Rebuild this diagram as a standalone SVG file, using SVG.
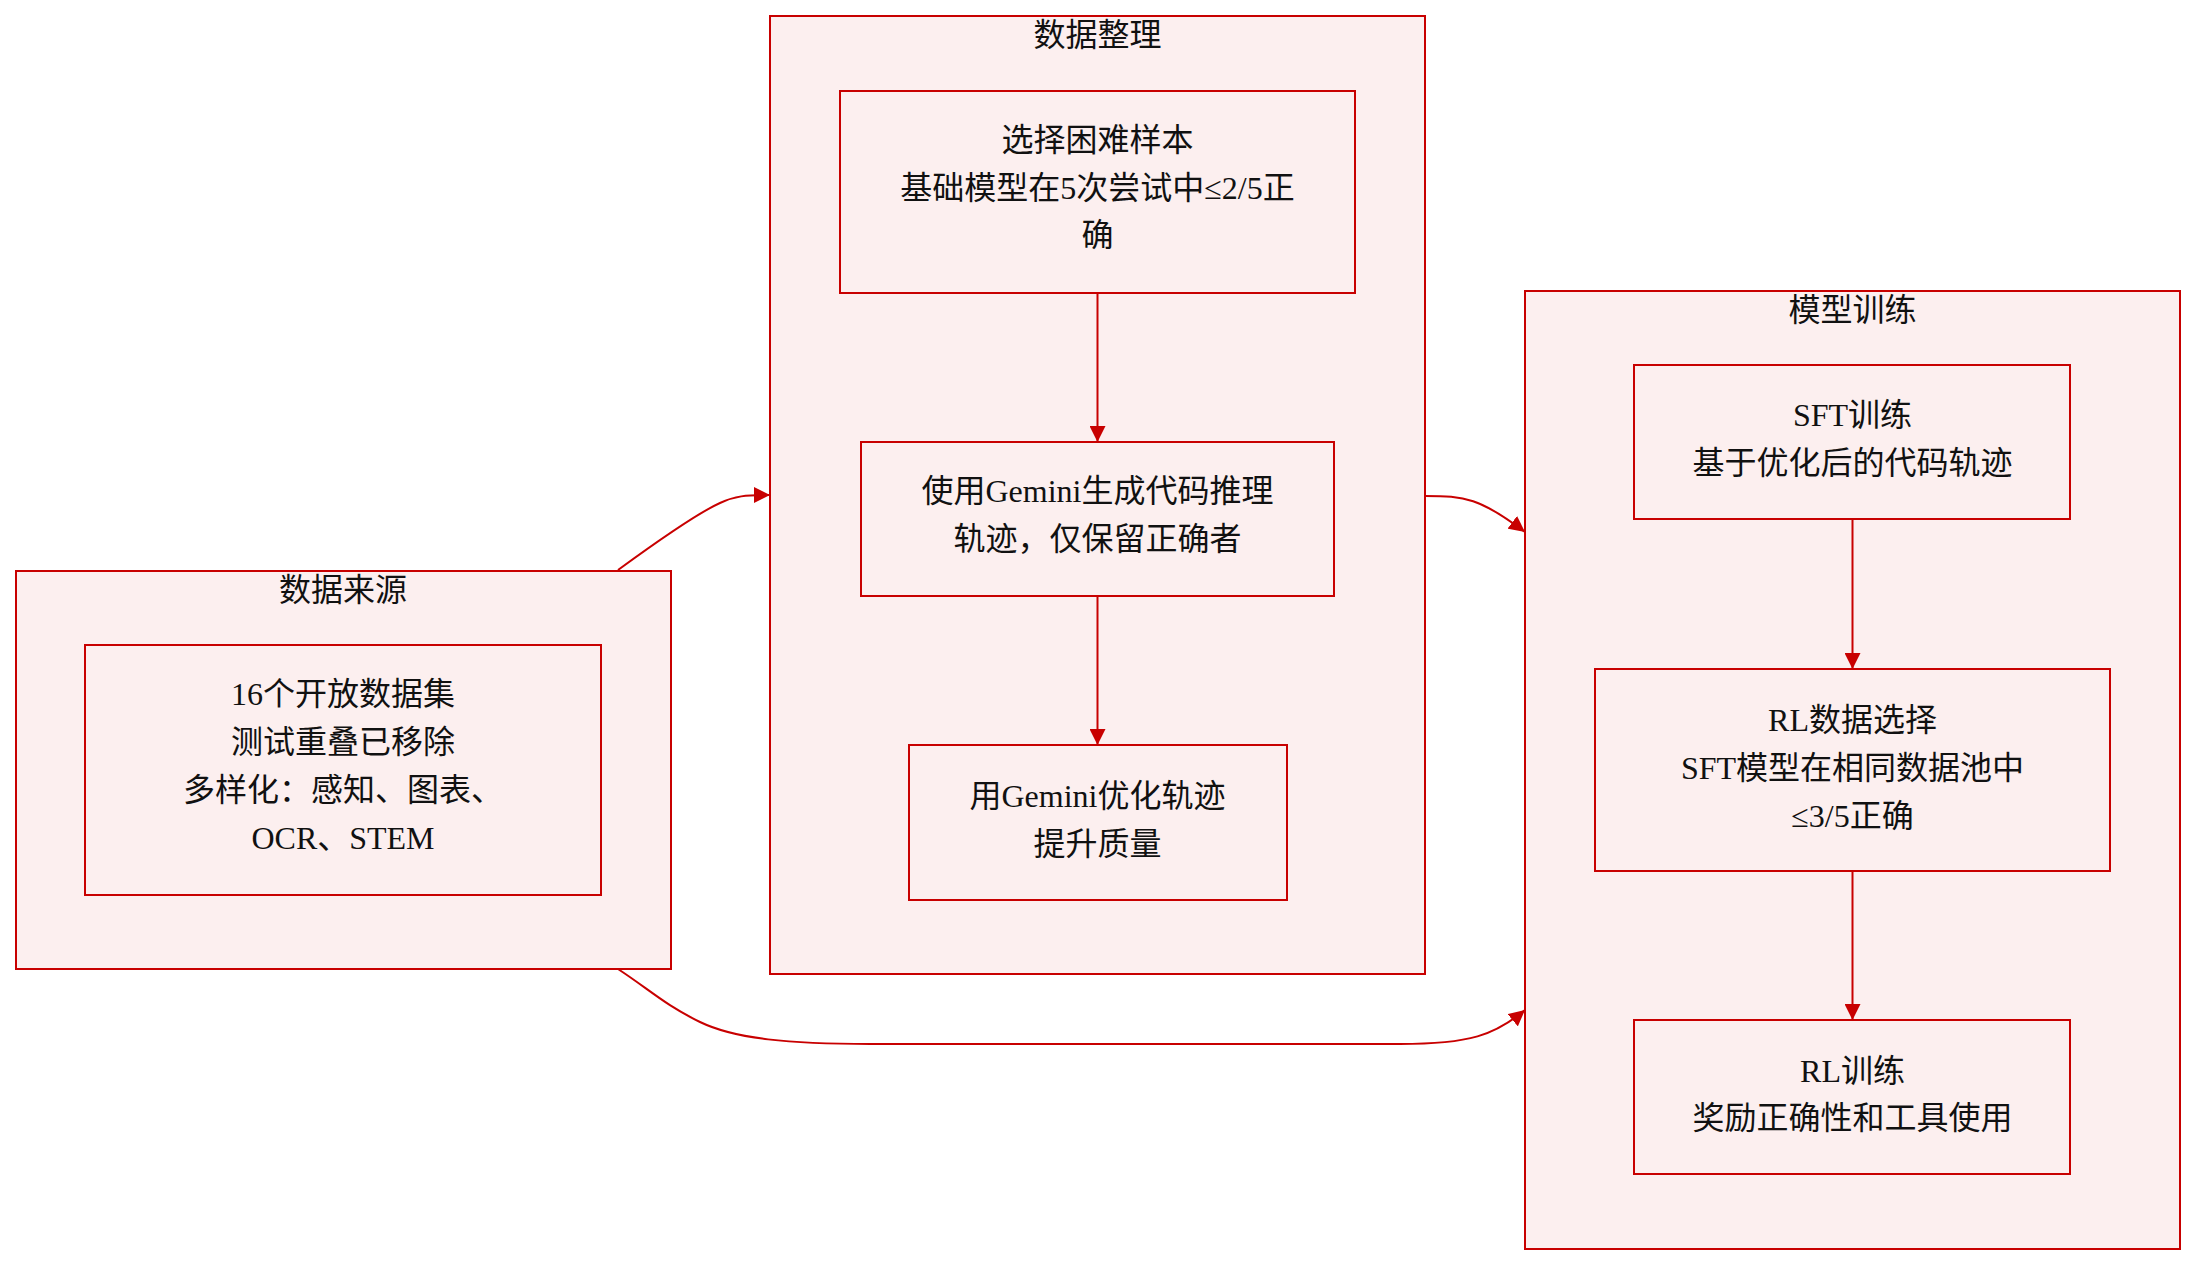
<svg xmlns="http://www.w3.org/2000/svg" width="2212" height="1276" viewBox="0 0 2212 1276">
<style>
.cl{fill:#fcefef;stroke:#c80000;stroke-width:2}
.nd{fill:#fcefef;stroke:#c80000;stroke-width:2}
.t{font-family:"Liberation Serif","Noto Sans CJK SC",serif;font-size:32px;fill:#111;text-anchor:middle}
.e{fill:none;stroke:#c80000;stroke-width:2}
</style>
<defs>
<marker id="ar" viewBox="0 0 10 10" refX="10" refY="5" markerUnits="userSpaceOnUse" markerWidth="16" markerHeight="16" orient="auto">
<path d="M0,0 L10,5 L0,10 z" fill="#c80000"/>
</marker>
</defs>
<rect width="2212" height="1276" fill="#fff"/>
<g id="cluster-source">
<rect class="cl" x="16" y="571" width="655" height="398"/>
<text class="t" x="343" y="601">数据来源</text>
</g>
<g id="cluster-curate">
<rect class="cl" x="770" y="16" width="655" height="958"/>
<text class="t" x="1097.5" y="46">数据整理</text>
</g>
<g id="cluster-train">
<rect class="cl" x="1525" y="291" width="655" height="958"/>
<text class="t" x="1852.5" y="321">模型训练</text>
</g>
<g id="node-datasets">
<rect class="nd" x="85" y="645" width="516" height="250"/>
<text class="t" x="343" y="705">16个开放数据集</text>
<text class="t" x="343" y="753">测试重叠已移除</text>
<text class="t" x="343" y="801">多样化：感知、图表、</text>
<text class="t" x="343" y="849">OCR、STEM</text>
</g>
<g id="node-hard">
<rect class="nd" x="840" y="91" width="515" height="202"/>
<text class="t" x="1097.5" y="151">选择困难样本</text>
<text class="t" x="1097.5" y="199">基础模型在5次尝试中≤2/5正</text>
<text class="t" x="1097.5" y="246">确</text>
</g>
<g id="node-gen">
<rect class="nd" x="861" y="442" width="473" height="154"/>
<text class="t" x="1097.5" y="502">使用Gemini生成代码推理</text>
<text class="t" x="1097.5" y="550">轨迹，仅保留正确者</text>
</g>
<g id="node-refine">
<rect class="nd" x="909" y="745" width="378" height="155"/>
<text class="t" x="1097.5" y="807">用Gemini优化轨迹</text>
<text class="t" x="1097.5" y="855">提升质量</text>
</g>
<g id="node-sft">
<rect class="nd" x="1634" y="365" width="436" height="154"/>
<text class="t" x="1852.5" y="426">SFT训练</text>
<text class="t" x="1852.5" y="474">基于优化后的代码轨迹</text>
</g>
<g id="node-rldata">
<rect class="nd" x="1595" y="669" width="515" height="202"/>
<text class="t" x="1852.5" y="731">RL数据选择</text>
<text class="t" x="1852.5" y="779">SFT模型在相同数据池中</text>
<text class="t" x="1852.5" y="827">≤3/5正确</text>
</g>
<g id="node-rltrain">
<rect class="nd" x="1634" y="1020" width="436" height="154"/>
<text class="t" x="1852.5" y="1082">RL训练</text>
<text class="t" x="1852.5" y="1129">奖励正确性和工具使用</text>
</g>
<g id="connectors">
<path class="e" d="M1097.5,293 L1097.5,442" marker-end="url(#ar)"/>
<path class="e" d="M1097.5,596 L1097.5,745" marker-end="url(#ar)"/>
<path class="e" d="M1852.5,519 L1852.5,669" marker-end="url(#ar)"/>
<path class="e" d="M1852.5,871 L1852.5,1020" marker-end="url(#ar)"/>
<path class="e" d="M618,570 C670,532 700,512 720,503 C735,496 745,495 770,495" marker-end="url(#ar)"/>
<path class="e" d="M1425,496 C1465,496 1480,498 1525,532" marker-end="url(#ar)"/>
<path class="e" d="M618,969 C650,990 665,1005 700,1022 C735,1039 790,1044 870,1044 L1400,1044 C1470,1044 1495,1035 1525,1010" marker-end="url(#ar)"/>
</g>
</svg>
